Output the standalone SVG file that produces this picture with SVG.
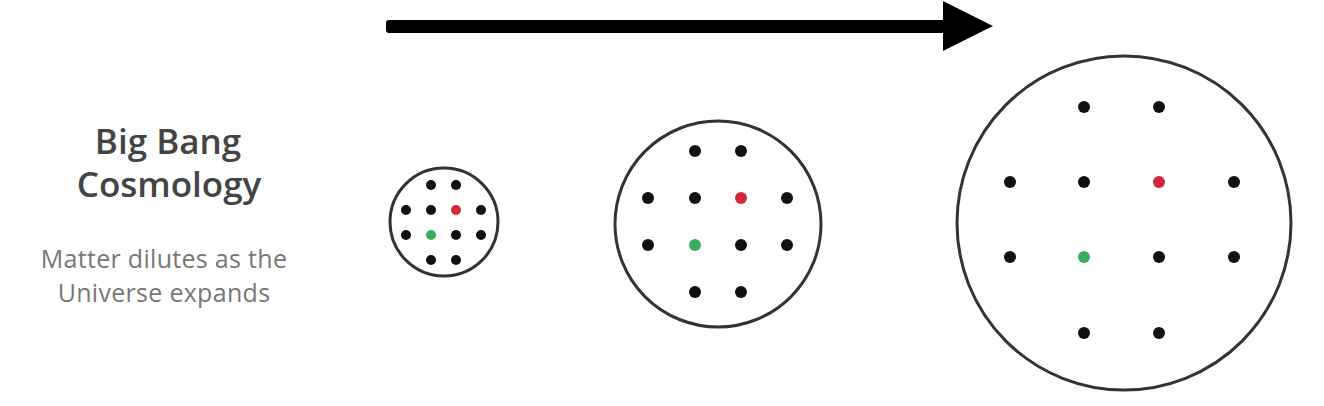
<svg xmlns="http://www.w3.org/2000/svg" width="1324" height="406" viewBox="0 0 1324 406">
<style>
.ring{fill:none;stroke:#333;stroke-width:3}
.d{fill:#111}
.r{fill:#d3263a}
.g{fill:#3aae5e}
.title{font-family:"Open Sans","Liberation Sans",sans-serif;font-weight:600;font-size:35px;fill:#444;text-anchor:middle}
.sub{font-family:"Open Sans","Liberation Sans",sans-serif;font-size:25px;fill:#777;text-anchor:middle;letter-spacing:0.3px}
</style>
<rect width="1324" height="406" fill="#fff"/>
<g id="label">
<text class="title" x="168" y="154">Big Bang</text>
<text class="title" x="169" y="197">Cosmology</text>
<text class="sub" x="164" y="268">Matter dilutes as the</text>
<text class="sub" x="164" y="302">Universe expands</text>
</g>
<g id="connectors">
<rect x="386" y="20" width="562" height="13" rx="3" fill="#000"/>
<polygon points="943,1 993,26 943,51" fill="#000"/>
</g>
<g id="small">
<circle class="ring" cx="444" cy="222" r="54"/>
<circle class="d" cx="431" cy="185" r="5"/><circle class="d" cx="456" cy="185" r="5"/>
<circle class="d" cx="406" cy="210" r="5"/><circle class="d" cx="431" cy="210" r="5"/><circle class="r" cx="456" cy="210" r="5"/><circle class="d" cx="481" cy="210" r="5"/>
<circle class="d" cx="406" cy="235" r="5"/><circle class="g" cx="431" cy="235" r="5"/><circle class="d" cx="456" cy="235" r="5"/><circle class="d" cx="481" cy="235" r="5"/>
<circle class="d" cx="431" cy="260" r="5"/><circle class="d" cx="456" cy="260" r="5"/>
</g>
<g id="medium">
<circle class="ring" cx="718" cy="224" r="103"/>
<circle class="d" cx="695" cy="151" r="6"/><circle class="d" cx="741" cy="151" r="6"/>
<circle class="d" cx="648" cy="198" r="6"/><circle class="d" cx="695" cy="198" r="6"/><circle class="r" cx="741" cy="198" r="6"/><circle class="d" cx="787" cy="198" r="6"/>
<circle class="d" cx="648" cy="245" r="6"/><circle class="g" cx="695" cy="245" r="6"/><circle class="d" cx="741" cy="245" r="6"/><circle class="d" cx="787" cy="245" r="6"/>
<circle class="d" cx="695" cy="292" r="6"/><circle class="d" cx="741" cy="292" r="6"/>
</g>
<g id="large">
<circle class="ring" cx="1124" cy="223" r="167"/>
<circle class="d" cx="1084" cy="107" r="6"/><circle class="d" cx="1159" cy="107" r="6"/>
<circle class="d" cx="1010" cy="182" r="6"/><circle class="d" cx="1084" cy="182" r="6"/><circle class="r" cx="1159" cy="182" r="6"/><circle class="d" cx="1234" cy="182" r="6"/>
<circle class="d" cx="1010" cy="257" r="6"/><circle class="g" cx="1084" cy="257" r="6"/><circle class="d" cx="1159" cy="257" r="6"/><circle class="d" cx="1234" cy="257" r="6"/>
<circle class="d" cx="1084" cy="333" r="6"/><circle class="d" cx="1159" cy="333" r="6"/>
</g>
</svg>
